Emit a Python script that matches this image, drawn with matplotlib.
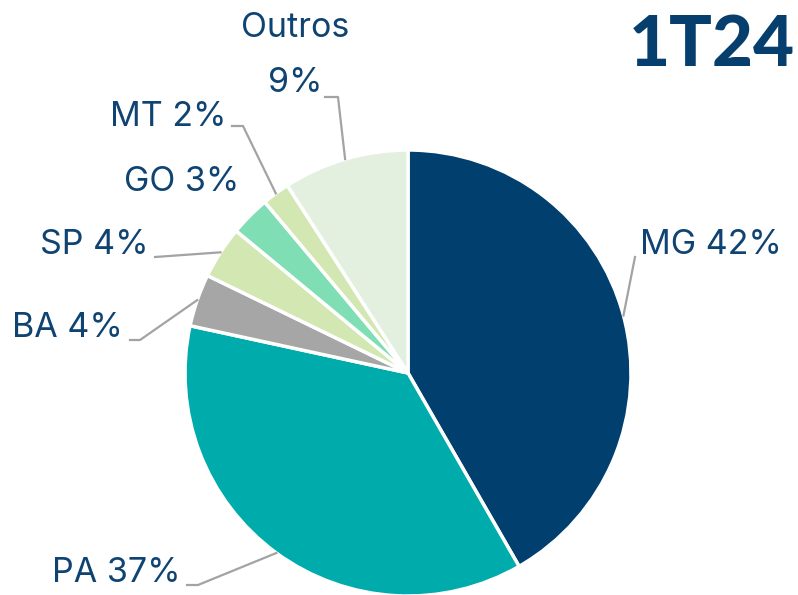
import numpy as np
import matplotlib
matplotlib.use("Agg")
import matplotlib.pyplot as plt
from matplotlib.lines import Line2D

# ---- data ----
categories = ["MG", "PA", "BA", "SP", "GO", "MT", "Outros"]
values = [41.7, 36.7, 3.8, 3.8, 2.9, 2.0, 9.1]
pct_labels = ["42%", "37%", "4%", "4%", "3%", "2%", "9%"]
colors = ["#003F6E", "#00ABAC", "#A6A6A6", "#D2E7B1", "#80DEB5", "#D2E7B1", "#E3F0E0"]
title = "1T24"

W, H = 798, 595
fig = plt.figure(figsize=(W / 100, H / 100), dpi=100)
fig.patch.set_facecolor("white")

cx, cy, r = 408, 373, 223  # pixel layout of the pie (from top)
ax = fig.add_axes([(cx - r) / W, (H - cy - r) / H, 2 * r / W, 2 * r / H])
wedges, _ = ax.pie(values, colors=colors, startangle=90, counterclock=False,
                   wedgeprops=dict(edgecolor="white", linewidth=2.5))
ax.set_xlim(-1, 1)
ax.set_ylim(-1, 1)
ax.set_aspect("auto")
ax.axis("off")
for w in wedges:
    w.set_clip_on(False)

txt_color = "#0F4372"
line_color = "#A3A3A3"
font = "Inter"
fs = 24.5

def anchor(i):
    w = wedges[i]
    th = np.deg2rad((w.theta1 + w.theta2) / 2)
    return ax.transData.transform((np.cos(th), np.sin(th)))

# label layout: (x, y_from_top, ha, leader points before anchor)
layout = {
    "MG": (640, 245, "left", [(635, 257)]),
    "PA": (181, 573, "right", [(187, 585), (198, 585)]),
    "BA": (123, 328, "right", [(130, 340), (140, 340)]),
    "SP": (149, 245, "right", [(155, 257)]),
    "GO": (239, 182, "right", []),
    "MT": (226, 117, "right", [(232, 126), (243, 126)]),
}

for i, cat in enumerate(categories):
    if cat == "Outros":
        fig.text(295 / W, 1 - 28 / H, cat, ha="center", va="center", fontsize=fs,
                 color=txt_color, family=font)
        fig.text(295 / W, 1 - 83 / H, pct_labels[i], ha="center", va="center", fontsize=fs,
                 color=txt_color, family=font)
        pts = [(325, 97), (338, 97)]
    else:
        x, y, ha, pts = layout[cat]
        fig.text(x / W, 1 - y / H, f"{cat} {pct_labels[i]}", ha=ha, va="center",
                 fontsize=fs, color=txt_color, family=font)
    if pts:
        a = anchor(i)
        xs = [p[0] for p in pts] + [a[0]]
        ys = [H - p[1] for p in pts] + [a[1]]
        fig.add_artist(Line2D(xs, ys, transform=None, color=line_color, lw=1.6))

fig.text(795 / W, 1 - 45 / H, title, ha="right", va="center", fontsize=51,
         fontweight="black", color="#063F6E", family="Lato")

fig.savefig("out.png", dpi=100, facecolor="white")
